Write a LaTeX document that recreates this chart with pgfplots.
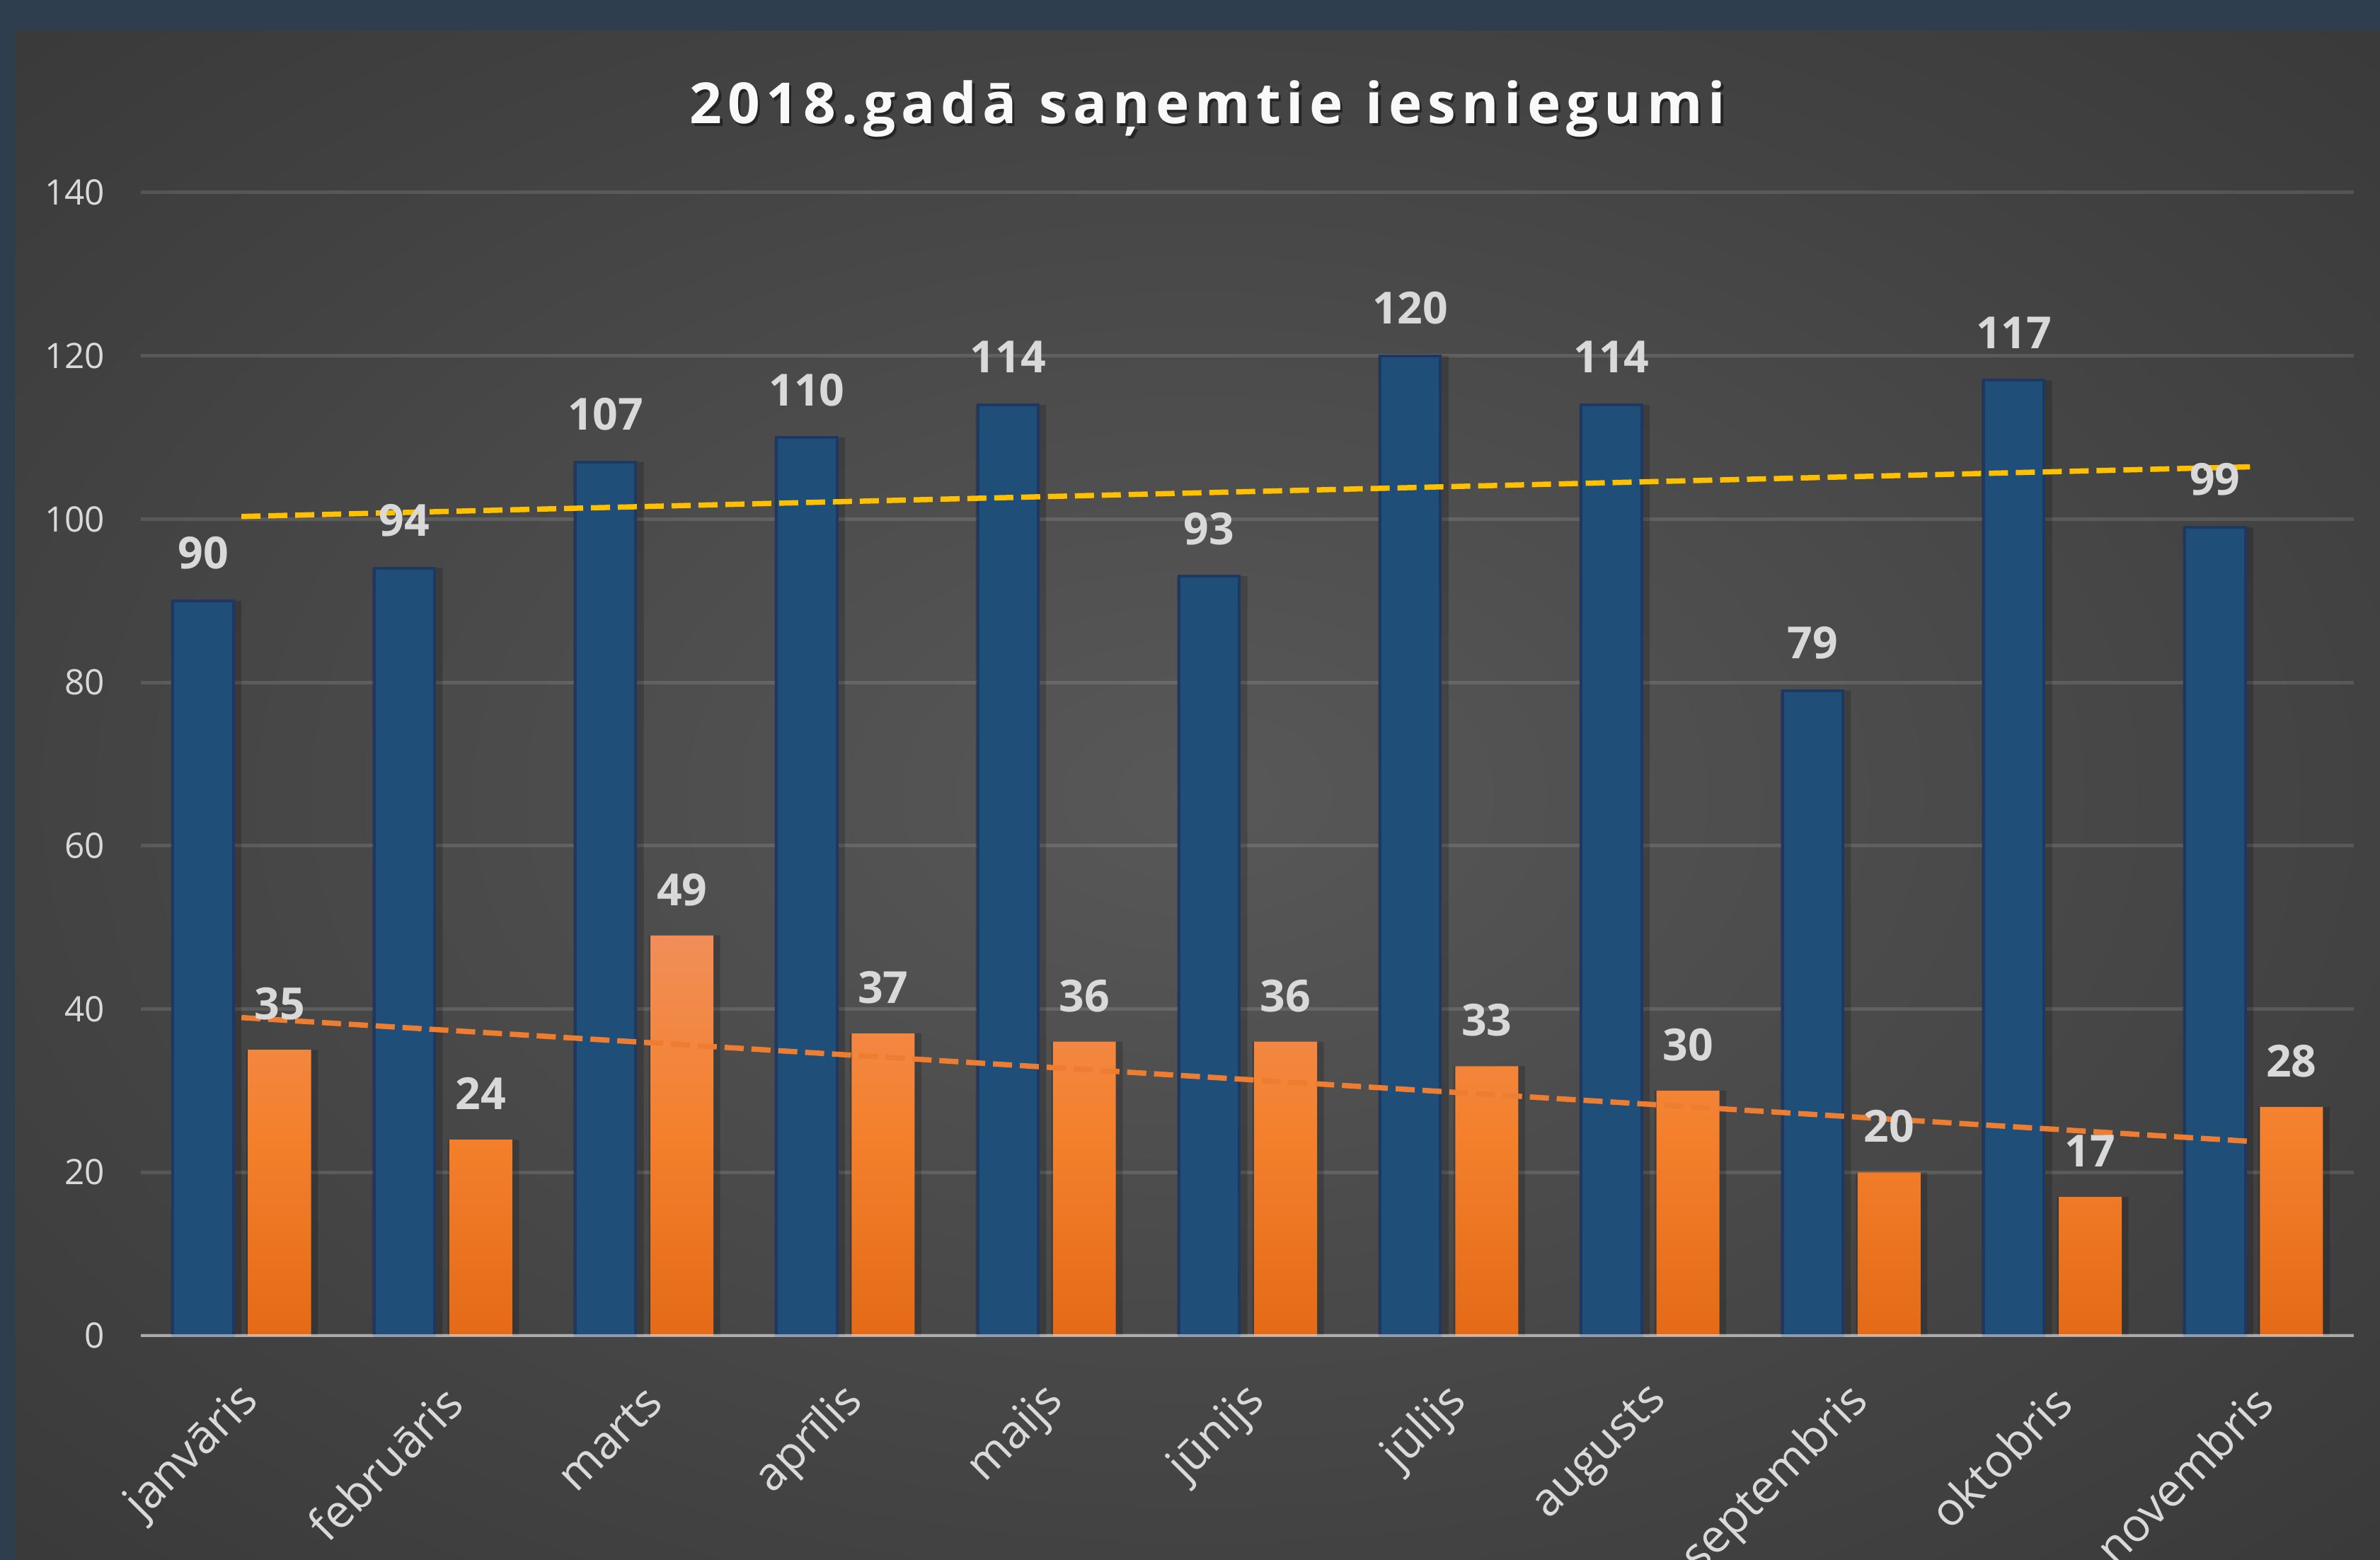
\documentclass[border=0pt]{standalone}
\usepackage{pgfplots}
\pgfplotsset{compat=1.18}
\usepackage{fontspec}
\setmainfont{Open Sans}
\definecolor{bordercol}{RGB}{46,62,78}
\definecolor{bgin}{RGB}{88,88,88}
\definecolor{bgmid}{RGB}{66,66,66}
\definecolor{bgout}{RGB}{46,46,46}
\definecolor{bgcorner}{RGB}{35,35,35}
\definecolor{lblcol}{RGB}{217,217,217}
\definecolor{bluefill}{RGB}{31,78,121}
\definecolor{blueedge}{RGB}{30,56,98}
\definecolor{orTop}{RGB}{241,142,88}
\definecolor{orMid}{RGB}{244,128,44}
\definecolor{orBot}{RGB}{228,106,23}
\definecolor{yelcol}{RGB}{255,192,0}
\definecolor{orline}{RGB}{237,125,49}
\pgfdeclareradialshading{bgshade}{\pgfpoint{0bp}{0bp}}{color(0bp)=(bgin); color(25bp)=(bgmid); color(50bp)=(bgout); color(72bp)=(bgcorner)}
\begin{document}
\begin{tikzpicture}
\fill[bordercol] (0,0) rectangle (672.6pt,440.8pt);
\shade[shading=bgshade] (4.2pt,0) rectangle (672.6pt,432pt);
% title
\node[anchor=base, text=black, opacity=0.45, font=\fontsize{16}{19}\selectfont\bfseries\addfontfeatures{LetterSpace=10}] at (342.0pt,405.1pt) {2018.gadā\hspace{0.4em}saņemtie\hspace{0.4em}iesniegumi};
\node[anchor=base, text=white!95!gray, font=\fontsize{16}{19}\selectfont\bfseries\addfontfeatures{LetterSpace=10}] at (341.3pt,405.8pt) {2018.gadā\hspace{0.4em}saņemtie\hspace{0.4em}iesniegumi};
\begin{axis}[
  at={(39.8pt,63.4pt)}, anchor=south west,
  scale only axis, width=625.4pt, height=323pt,
  xmin=-0.5, xmax=10.5, ymin=0, ymax=140,
  axis line style={draw=none},
  tick style={draw=none},
  ytick={0,20,...,140},
  ymajorgrids,
  grid style={white, opacity=0.12, line width=1pt},
  xtick={0,...,10},
  xticklabels={janvāris,februāris,marts,aprīlis,maijs,jūnijs,jūlijs,augusts,septembris,oktobris,novembris},
  xticklabel style={xshift=3.2pt, yshift=-16.5pt, rotate=45, anchor=east, inner sep=0pt, font=\fontsize{13}{16}\selectfont, text=lblcol},
  yticklabel style={font=\fontsize{9.9}{12}\selectfont, text=lblcol, inner sep=0pt, anchor=east, xshift=-10pt},
  /pgf/number format/assume math mode=true,
  clip=false,
]
% soft shadows
\addplot[ybar, bar width=0.35, bar shift=-0.175, fill=black, opacity=0.18, draw=none]
  coordinates {(0,90) (1,94) (2,107) (3,110) (4,114) (5,93) (6,120) (7,114) (8,79) (9,117) (10,99)};
\addplot[ybar, bar width=0.355, bar shift=0.2025, fill=black, opacity=0.18, draw=none]
  coordinates {(0,35) (1,24) (2,49) (3,37) (4,36) (5,36) (6,33) (7,30) (8,20) (9,17) (10,28)};
% blue series
\addplot[ybar, bar width=0.30, bar shift=-0.19, fill=bluefill, draw=blueedge, line width=0.8pt,
  nodes near coords,
  every node near coord/.append style={text=lblcol, font=\fontsize{12.5}{15}\selectfont\bfseries, anchor=base, xshift=-10.8pt, yshift=9pt, inner sep=0pt}]
  coordinates {(0,90) (1,94) (2,107) (3,110) (4,114) (5,93) (6,120) (7,114) (8,79) (9,117) (10,99)};
% orange series
\addplot[ybar, bar width=0.313, bar shift=0.19, draw=none, top color=orTop, bottom color=orBot, middle color=orMid,
  nodes near coords,
  every node near coord/.append style={text=lblcol, font=\fontsize{12.5}{15}\selectfont\bfseries, anchor=base, xshift=10.8pt, yshift=8.5pt, inner sep=0pt}]
  coordinates {(0,35) (1,24) (2,49) (3,37) (4,36) (5,36) (6,33) (7,30) (8,20) (9,17) (10,28)};
% baseline
\addplot[white, opacity=0.5, line width=0.8pt] coordinates {(-0.5,0) (10.5,0)};
% linear trend lines
\addplot[yelcol, line width=1.5pt, dash pattern=on 5.4pt off 2.2pt] coordinates {(0,100.32) (10,106.41)};
\addplot[orline, line width=1.5pt, dash pattern=on 5.4pt off 2.2pt] coordinates {(0,38.95) (10,23.77)};
\end{axis}
\pgfresetboundingbox
\path (0,0) rectangle (672.6pt,440.8pt);
\end{tikzpicture}
\end{document}
